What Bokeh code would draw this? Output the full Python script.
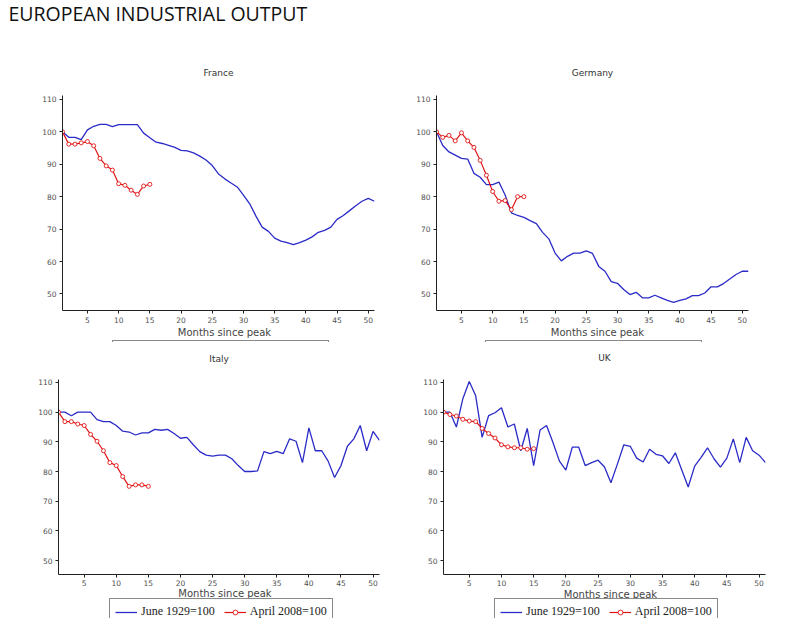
from bokeh.plotting import figure
from bokeh.models import Range1d, FixedTicker, Label, Legend, LegendItem
from bokeh.layouts import column, row
from bokeh.embed import file_html
from bokeh.resources import INLINE

# ---------------- data ----------------
months = list(range(1, 52))
months_2008 = list(range(1, 16))
x_ticks = [5, 10, 15, 20, 25, 30, 35, 40, 45, 50]
y_ticks = [50, 60, 70, 80, 90, 100, 110]

france_1929 = [100, 98.3, 98.3, 97.6, 100.6, 101.7, 102.3, 102.3, 101.6, 102.2,
               102.2, 102.2, 102.2, 99.6, 98.2, 96.8, 96.4, 95.8, 95.2, 94.3,
               94.1, 93.5, 92.5, 91.3, 89.6, 87.0, 85.5, 84.2, 83.0, 80.5,
               77.8, 74.0, 70.6, 69.3, 67.2, 66.3, 65.8, 65.2, 65.8, 66.6,
               67.6, 69.0, 69.6, 70.6, 73.0, 74.2, 75.7, 77.2, 78.6, 79.5, 78.6]
france_2008 = [100, 96.2, 96.2, 96.6, 97.0, 95.7, 91.8, 89.5, 88.2, 84.0,
               83.5, 82.0, 80.7, 83.3, 83.8]

germany_1929 = [100, 95.8, 93.8, 92.8, 91.8, 91.6, 87.2, 86.0, 83.7, 83.7,
                84.5, 80.5, 75.0, 74.2, 73.6, 72.6, 71.7, 69.0, 67.0, 62.6,
                60.2, 61.6, 62.6, 62.6, 63.3, 62.5, 58.5, 57.0, 53.8, 53.3,
                51.4, 49.8, 50.5, 48.8, 48.8, 49.6, 48.8, 48.0, 47.4, 48.0,
                48.5, 49.5, 49.5, 50.3, 52.2, 52.2, 53.2, 54.6, 56.0, 57.0, 57.0]
germany_2008 = [100, 98.3, 98.9, 97.2, 99.7, 97.2, 95.2, 91.2, 86.6, 81.6,
                78.6, 78.8, 76.0, 80.0, 80.0]

italy_1929 = [100, 100, 98.8, 100, 100, 100, 97.5, 96.8, 96.8, 95.5,
              93.6, 93.3, 92.3, 93.0, 93.0, 94.2, 93.9, 94.2, 92.8, 91.2,
              91.5, 89.0, 86.7, 85.5, 85.2, 85.5, 85.5, 84.3, 82.0, 80.0,
              80.0, 80.2, 86.7, 86.0, 86.8, 86.0, 91.0, 90.2, 83.0, 94.7,
              87.0, 87.0, 83.5, 78.0, 82.0, 88.5, 91.0, 95.5, 87.0, 93.5, 90.5]
italy_2008 = [100, 96.8, 96.8, 96.0, 95.5, 92.5, 90.2, 87.0, 83.0, 82.0,
              78.3, 75.0, 75.5, 75.5, 75.0]

uk_1929 = [100, 100, 95, 104.5, 110.3, 105.5, 91.5, 98.8, 99.8, 101.5,
           95, 96, 87, 94.5, 82, 94, 95.5, 89.8, 83.5, 80.5,
           88.2, 88.2, 82, 83, 83.8, 81.5, 76.2, 82.5, 89, 88.5,
           84.5, 83.2, 87.5, 85.8, 85.3, 82.7, 86.3, 80.5, 74.8, 81.8,
           84.8, 88, 84.3, 81.5, 84.5, 91, 83, 91.5, 87, 85.5, 83]
uk_2008 = [100, 99.2, 98.7, 97.6, 97.0, 96.8, 94.5, 92.8, 91.3, 89.0,
           88.3, 88.0, 88.0, 87.5, 87.7]

chart_title = "EUROPEAN INDUSTRIAL OUTPUT"
x_label = "Months since peak"
label_1929 = "June 1929=100"
label_2008 = "April 2008=100"

BLUE = "#2b2bc8"
RED = "#e01414"
AXIS = "#222222"
TICK_TXT = "#505050"


def panel(s1929, s2008, width, height, bl, br, bt, bb, yr, xstand=3):
    p = figure(width=width, height=height, title=None, toolbar_location=None,
               output_backend="svg", x_range=Range1d(1, 51), y_range=Range1d(*yr),
               min_border_left=bl, min_border_right=br,
               min_border_top=bt, min_border_bottom=bb)
    p.outline_line_color = None
    p.grid.visible = False
    for ax in (p.xaxis[0], p.yaxis[0]):
        ax.axis_line_color = AXIS
        ax.axis_line_width = 1
        ax.major_tick_line_color = AXIS
        ax.major_tick_out = 3
        ax.major_tick_in = 0
        ax.minor_tick_line_color = None
        ax.major_label_text_font = "DejaVu Sans"
        ax.major_label_text_font_size = "7.5px"
        ax.major_label_text_color = TICK_TXT
        ax.major_label_standoff = 3
    p.xaxis.major_label_standoff = xstand
    p.xaxis.ticker = FixedTicker(ticks=x_ticks)
    p.yaxis.ticker = FixedTicker(ticks=y_ticks)
    p.line(months, s1929, line_color=BLUE, line_width=1.3)
    p.line(months_2008, s2008, line_color=RED, line_width=1.2)
    p.scatter(months_2008, s2008, marker="circle", size=4,
              line_color=RED, line_width=0.9, fill_color="white")
    return p


def strip(h):
    s = figure(width=790, height=h, title=None, toolbar_location=None, output_backend="svg",
               x_range=Range1d(0, 1), y_range=Range1d(0, 1), min_border=0,
               x_axis_location=None, y_axis_location=None)
    s.outline_line_color = None
    s.grid.visible = False
    return s


def text(s, x, y, t, size, color, font="DejaVu Sans", align="center"):
    s.add_layout(Label(x=x, y=y, x_units="screen", y_units="screen", text=t,
                       text_font=font, text_font_size=size, text_color=color,
                       text_align=align, text_baseline="alphabetic"))


def legend(s, s1929, s2008, x, y, labels=True):
    r1 = s.line(months, s1929, line_color=BLUE, line_width=1.3, visible=False)
    r2 = s.line(months_2008, s2008, line_color=RED, line_width=1.2, visible=False)
    r3 = s.scatter(months_2008, s2008, marker="circle", size=4, line_color=RED,
                   line_width=0.9, fill_color="white", visible=False)
    l1, l2 = (label_1929, label_2008) if labels else ("", "")
    leg = Legend(items=[LegendItem(label=l1, renderers=[r1]),
                        LegendItem(label=l2, renderers=[r2, r3])],
                 location=(x, y), orientation="horizontal",
                 label_text_font="Liberation Serif", label_text_font_size="12px",
                 label_text_color="#222222", glyph_width=22, glyph_height=12,
                 label_height=12, label_width=(0 if labels else 72),
                 label_standoff=4, spacing=9, padding=5, margin=0,
                 border_line_color="#111111", border_line_width=1,
                 background_fill_color="white", background_fill_alpha=1,
                 inactive_fill_alpha=0)
    s.add_layout(leg, "center")


# strip A: chart title + top panel titles (0-90)
sa = strip(90)
text(sa, 8, 77, chart_title, "19.5px", "#111111", font="Open Sans", align="left")
text(sa, 218, 17.4, "France", "9px", "#333333")
text(sa, 592, 17.4, "Germany", "9px", "#333333")

top_yr = (44.9, 111.2)
bot_yr = (45.3, 111.0)

# row 1 (90-325)
p1 = panel(france_1929, france_2008, 400, 235, 62, 26, 5, 15, top_yr)
p2 = panel(germany_1929, germany_2008, 390, 235, 36, 42, 5, 15, top_yr)

# strip B1: x labels of top panels, tops of their legend boxes (325-342)
sb1 = strip(17)
text(sb1, 224, 10.3, x_label, "10px", "#444444")
text(sb1, 597, 10.3, x_label, "10px", "#444444")
legend(sb1, france_1929, france_2008, 112, -21.5, labels=False)
legend(sb1, germany_1929, germany_2008, 485, -21.5, labels=False)

# strip B2: bottom panel titles (342-376)
sb2 = strip(34)
text(sb2, 218.5, 17.7, "Italy", "9px", "#333333")
text(sb2, 604, 18.7, "UK", "9px", "#333333")

# row 2 (376-588)
p3 = panel(italy_1929, italy_2008, 400, 212, 58, 21, 3, 14, bot_yr, xstand=2)
p4 = panel(uk_1929, uk_2008, 390, 212, 43, 25, 3, 14, bot_yr, xstand=2)

# strip C: x labels + legends of bottom panels (588-618)
sc = strip(30)
text(sc, 224.5, 25.3, x_label, "10px", "#444444")
text(sc, 610, 24.3, x_label, "10px", "#444444")
legend(sc, italy_1929, italy_2008, 109, -7)
legend(sc, uk_1929, uk_2008, 494, -7)

layout = column(sa, row(p1, p2), sb1, sb2, row(p3, p4), sc)
open("out.html", "w").write(file_html(layout, INLINE))
